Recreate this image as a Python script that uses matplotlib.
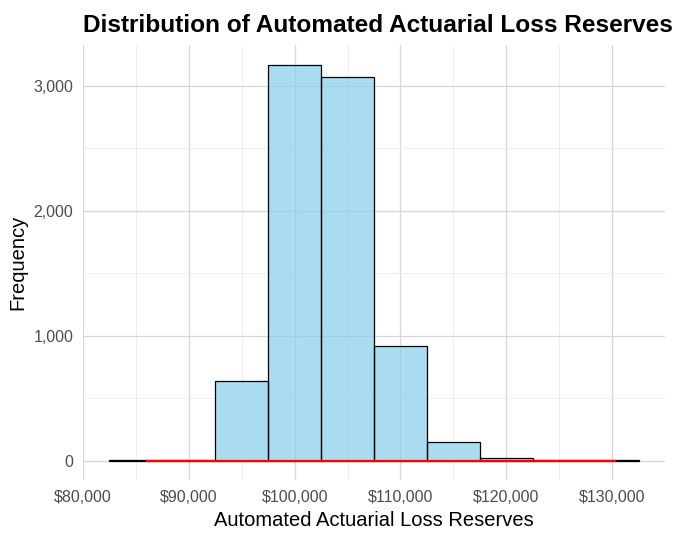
import matplotlib
matplotlib.use("Agg")
import matplotlib.pyplot as plt
from matplotlib.ticker import FuncFormatter, MultipleLocator

plt.rcParams['font.family'] = ['Liberation Sans', 'DejaVu Sans']

# Histogram bins (centers) and counts
bin_centers = [85000, 90000, 95000, 100000, 105000, 110000, 115000, 120000, 125000, 130000]
counts = [2, 3, 635, 3170, 3068, 920, 152, 22, 3, 2]
bin_width = 5000

# Overlaid (near-zero) density curve in red
curve_x = [86000, 95000, 100000, 105000, 110000, 120000, 130300]
curve_y = [0, 0, 0, 0, 0, 0, 0]

x_ticks = [80000, 90000, 100000, 110000, 120000, 130000]
y_ticks = [0, 1000, 2000, 3000]

fig = plt.figure(figsize=(6.76, 5.33), dpi=100)
ax = fig.add_axes([0.1228, 0.0985, 0.861, 0.8175])

ax.bar(bin_centers, counts, width=bin_width, color='#87CEEB', alpha=0.7,
       edgecolor='none', zorder=2)
ax.bar(bin_centers, counts, width=bin_width, facecolor='none',
       edgecolor='black', linewidth=0.9, zorder=3)
ax.plot(curve_x, curve_y, color='red', linewidth=1.6, zorder=4)

ax.set_xlim(80000, 135000)
ax.set_ylim(-158.5, 3328.5)
ax.set_xticks(x_ticks)
ax.set_yticks(y_ticks)
ax.xaxis.set_minor_locator(MultipleLocator(5000))
ax.yaxis.set_minor_locator(MultipleLocator(500))
ax.xaxis.set_major_formatter(FuncFormatter(lambda v, p: f"${v:,.0f}"))
ax.yaxis.set_major_formatter(FuncFormatter(lambda v, p: f"{v:,.0f}"))

ax.grid(True, which='major', color='#d6d6d6', linewidth=0.9, zorder=0)
ax.grid(True, which='minor', color='#ebebeb', linewidth=0.6, zorder=0)
ax.set_axisbelow(True)
for s in ax.spines.values():
    s.set_visible(False)
ax.tick_params(which='both', length=0)
ax.tick_params(axis='both', labelsize=11.5, labelcolor='#4d4d4d')
ax.tick_params(axis='x', pad=7)
ax.tick_params(axis='y', pad=7)

ax.set_xlabel('Automated Actuarial Loss Reserves', fontsize=14.5, labelpad=4)
ax.set_ylabel('Frequency', fontsize=14.5, labelpad=4)
fig.text(0.1228, 0.953, 'Distribution of Automated Actuarial Loss Reserves',
         fontsize=17.6, fontweight='bold', ha='left', va='center')

fig.savefig('out.png', dpi=100)
